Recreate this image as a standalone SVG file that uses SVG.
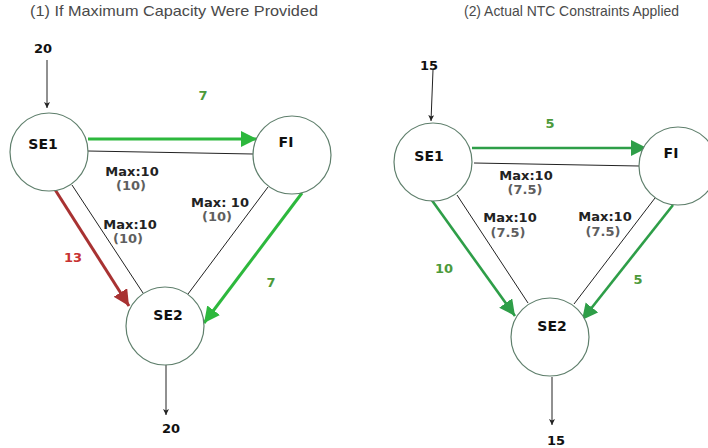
<svg xmlns="http://www.w3.org/2000/svg" width="708" height="448" viewBox="0 0 708 448">
<style>
.node{fill:#fff;stroke:#5f7f6c;stroke-width:1.2}
.nl{font-family:"DejaVu Sans",sans-serif;font-weight:bold;font-size:14px;fill:#111;text-anchor:middle}
.num{font-family:"DejaVu Sans",sans-serif;font-weight:bold;font-size:13px;fill:#111;text-anchor:middle}
.max{font-family:"DejaVu Sans",sans-serif;font-weight:bold;font-size:13px;fill:#222;text-anchor:middle}
.cap{font-family:"DejaVu Sans",sans-serif;font-size:13px;fill:#444;text-anchor:middle;font-weight:bold;opacity:0.85}
.gl{font-family:"DejaVu Sans",sans-serif;font-weight:bold;font-size:13px;fill:#4c9a3a;text-anchor:middle}
.rl{font-family:"DejaVu Sans",sans-serif;font-weight:bold;font-size:13px;fill:#c83232;text-anchor:middle}
.title{font-family:"Liberation Sans",sans-serif;font-size:15px;fill:#4a4a4a}
.thin{stroke:#222;stroke-width:1;fill:none}
.g1{stroke:#2db83d;stroke-width:3;fill:none}
.g2{stroke:#2e9e48;stroke-width:2.6;fill:none}
.r1{stroke:#a83232;stroke-width:3;fill:none}
</style>
<defs>
<marker id="ah" markerUnits="userSpaceOnUse" markerWidth="8" markerHeight="8" refX="6" refY="3" orient="auto"><path d="M0,0 L6,3 L0,6 L1.5,3 z" fill="#222"/></marker>
<marker id="ag1" markerUnits="userSpaceOnUse" markerWidth="18" markerHeight="18" refX="16" refY="8" orient="auto"><path d="M0,0 L16,8 L0,16 z" fill="#2db83d"/></marker>
<marker id="ag2" markerUnits="userSpaceOnUse" markerWidth="18" markerHeight="18" refX="16" refY="8" orient="auto"><path d="M0,0 L16,8 L0,16 z" fill="#2e9e48"/></marker>
<marker id="ar" markerUnits="userSpaceOnUse" markerWidth="18" markerHeight="18" refX="16" refY="8" orient="auto"><path d="M0,0 L16,8 L0,16 z" fill="#a83232"/></marker>
</defs>
<rect width="708" height="448" fill="#fff"/>
<text class="title" x="30" y="16" textLength="288" lengthAdjust="spacingAndGlyphs">(1) If Maximum Capacity Were Provided</text>
<text class="title" x="464" y="16" textLength="215" lengthAdjust="spacingAndGlyphs">(2) Actual NTC Constraints Applied</text>

<g id="connectors">
<line class="thin" x1="47" y1="60" x2="47" y2="108" marker-end="url(#ah)"/>
<line class="thin" x1="166" y1="365" x2="166" y2="415" marker-end="url(#ah)"/>
<line class="g1" x1="88" y1="139" x2="257" y2="139" marker-end="url(#ag1)"/>
<line class="thin" x1="88" y1="151" x2="253" y2="154"/>
<line class="r1" x1="54" y1="188" x2="129" y2="306" marker-end="url(#ar)"/>
<line class="thin" x1="72" y1="185" x2="143" y2="293"/>
<line class="thin" x1="268" y1="187" x2="188" y2="294"/>
<line class="g1" x1="302" y1="193" x2="204" y2="323" marker-end="url(#ag1)"/>

<line class="thin" x1="433" y1="70" x2="431" y2="121" marker-end="url(#ah)"/>
<line class="thin" x1="552" y1="377" x2="552" y2="425" marker-end="url(#ah)"/>
<line class="g2" x1="472" y1="148" x2="647" y2="148" marker-end="url(#ag2)"/>
<line class="thin" x1="474" y1="163" x2="639" y2="166"/>
<line class="g2" x1="431" y1="199" x2="515" y2="316" marker-end="url(#ag2)"/>
<line class="thin" x1="457" y1="195" x2="528" y2="303"/>
<line class="thin" x1="655" y1="198" x2="574" y2="304"/>
<line class="g2" x1="673" y1="205" x2="582" y2="320" marker-end="url(#ag2)"/>
</g>

<g id="L-SE1"><circle class="node" cx="49" cy="152" r="39"/><text class="nl" x="43" y="149">SE1</text></g>
<g id="L-FI"><circle class="node" cx="292" cy="155" r="39"/><text class="nl" x="286" y="147">FI</text></g>
<g id="L-SE2"><circle class="node" cx="165" cy="326" r="39"/><text class="nl" x="168" y="320">SE2</text></g>

<g id="R-SE1"><circle class="node" cx="433" cy="162" r="39"/><text class="nl" x="429" y="161">SE1</text></g>
<g id="R-FI"><circle class="node" cx="678" cy="166" r="39"/><text class="nl" x="671" y="158">FI</text></g>
<g id="R-SE2"><circle class="node" cx="550" cy="337" r="39"/><text class="nl" x="552" y="331">SE2</text></g>

<g id="labels">
<text class="num" x="43" y="53">20</text>
<text class="num" x="171" y="433">20</text>
<text class="gl" x="203" y="100">7</text>
<text class="max" x="132" y="176">Max:10</text>
<text class="cap" x="131" y="190">(10)</text>
<text class="rl" x="73" y="262">13</text>
<text class="max" x="130" y="229">Max:10</text>
<text class="cap" x="128" y="243">(10)</text>
<text class="gl" x="271" y="287">7</text>
<text class="max" x="220" y="207">Max: 10</text>
<text class="cap" x="217" y="221">(10)</text>

<text class="num" x="429" y="70">15</text>
<text class="num" x="556" y="445">15</text>
<text class="gl" x="550" y="128">5</text>
<text class="max" x="526" y="180">Max:10</text>
<text class="cap" x="525" y="194">(7.5)</text>
<text class="gl" x="444" y="273">10</text>
<text class="max" x="510" y="222">Max:10</text>
<text class="cap" x="508" y="237">(7.5)</text>
<text class="gl" x="638" y="284">5</text>
<text class="max" x="605" y="221">Max:10</text>
<text class="cap" x="603" y="236">(7.5)</text>
</g>
</svg>
